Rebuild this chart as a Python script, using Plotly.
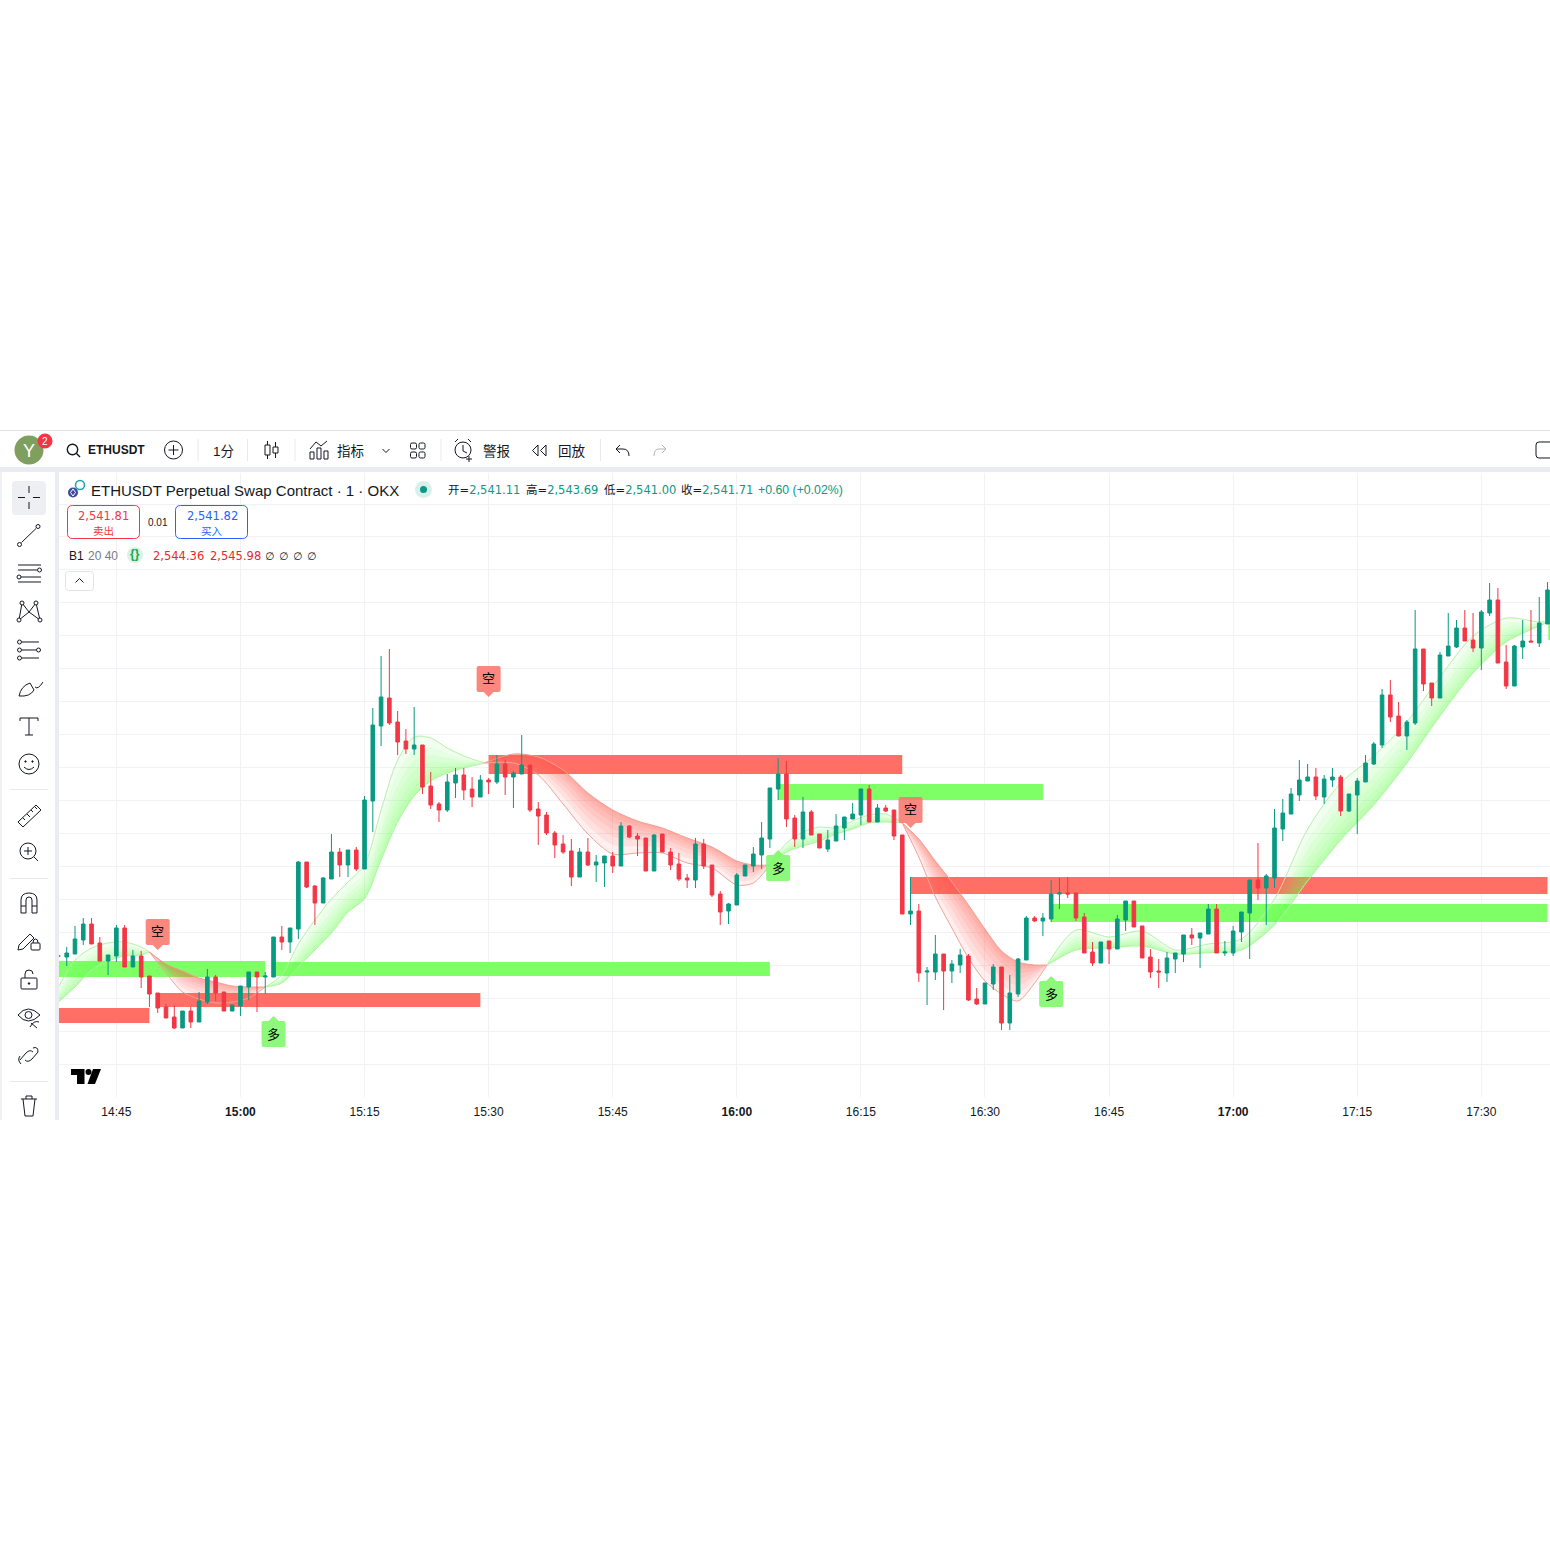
import re
import pandas as pd
import plotly.graph_objects as go

# ---------- candle data (1-minute bars, first bar 14:38) ----------
first_bar = "2025-05-20 14:38:00"
opens = [2496.6,2496.45,2496.9,2499,2501.4,2498.55,2495.85,2496.6,2500.8,2494.95,
 2496.6,2493.6,2491.05,2488.95,2487.45,2485.8,2488.35,2486.7,2489.7,2493.45,
 2491.2,2488.35,2489.1,2491.95,2494.2,2493.45,2493.45,2499.45,2498.7,2500.65,
 2510.7,2507.1,2504.55,2508.15,2512.2,2510.25,2512.5,2509.65,2519.85,2531.1,
 2535.3,2531.7,2528.85,2527.65,2528.25,2522.1,2519.4,2518.5,2522.55,2523.75,
 2521.65,2520.45,2523,2522.7,2525.4,2523.45,2523.9,2525.25,2518.65,2517.75,
 2515.05,2513.4,2512.35,2508.45,2512.2,2510.25,2510.55,2511.6,2510.1,2516.1,
 2514.6,2514.3,2509.35,2514.9,2512.2,2510.4,2508.3,2508,2513.4,2510.25,
 2505.9,2503.35,2504.25,2508.6,2510.1,2511.75,2514.15,2521.65,2523.9,2517.3,
 2514.15,2518.2,2514.9,2512.65,2513.85,2515.8,2517.15,2517.75,2521.65,2516.7,
 2518.8,2518.5,2514.75,2502.9,2503.35,2494.2,2494.2,2496.9,2494.35,2495.25,
 2496.6,2490.15,2489.4,2492.4,2494.95,2486.55,2490.9,2496,2502.3,2501.85,
 2502.15,2505.9,2506.05,2506.05,2502.45,2497.2,2495.55,2498.85,2497.65,2502,
 2504.85,2501.1,2496.45,2494.35,2494.05,2496.15,2496.9,2499.75,2499.3,2499.9,
 2503.65,2497.05,2497.05,2500.2,2503.05,2508,2506.8,2508.3,2515.65,2517.9,
 2520.75,2522.85,2523.45,2520.45,2523,2523.45,2518.35,2520.75,2522.7,2525.4,
 2528.25,2535.75,2532.6,2529.6,2531.55,2542.65,2537.55,2535.3,2541.6,2542.95,
 2545.8,2544,2542.8,2548.05,2550,2540.7,2537.1,2542.95,2543.85,2543.55,
 2546.4]
highs = [2496.9,2497.95,2501.1,2502.3,2502.3,2499.45,2496.75,2501.25,2501.25,2497.5,
 2497.35,2493.6,2491.05,2489.4,2489.25,2488.35,2488.95,2491.2,2494.65,2493.75,
 2491.2,2489.25,2492.1,2494.2,2494.2,2494.2,2499.45,2501.1,2500.8,2510.85,
 2510.7,2507.25,2508.45,2514.9,2512.8,2512.5,2512.95,2520.6,2533.8,2541.6,
 2542.65,2533.35,2530.65,2533.95,2528.25,2524.2,2519.7,2523.9,2524.8,2524.8,
 2523.45,2523.75,2523.3,2526.75,2526,2524.35,2529.75,2525.25,2519.7,2518.2,
 2515.35,2514.75,2514.15,2512.8,2514.3,2511.75,2511.6,2512.2,2516.7,2516.25,
 2515.05,2514.3,2514.9,2514.9,2512.8,2512.05,2508.9,2514.3,2514.15,2510.25,
 2506.35,2504.55,2509.05,2510.25,2512.95,2516.7,2521.8,2526.3,2525.85,2517.75,
 2520.45,2518.5,2514.9,2515.5,2517.9,2517.45,2519.55,2521.65,2522.25,2519.4,
 2519.25,2518.5,2514.75,2508.45,2504.4,2494.95,2499.75,2496.9,2496,2497.65,
 2496.9,2491.8,2492.55,2495.4,2494.95,2493.75,2496.3,2502.6,2502.6,2503.05,
 2508,2508.3,2508.45,2506.05,2503.05,2498.7,2498.7,2498.85,2502.75,2504.85,
 2504.85,2501.1,2497.65,2496.15,2497.2,2497.05,2499.75,2500.8,2500.05,2504.4,
 2504.4,2498.85,2501.1,2503.2,2508,2513.55,2508.9,2518.65,2520.15,2521.8,
 2526,2525.4,2524.8,2523.75,2524.8,2523.75,2520.9,2523.3,2526.75,2528.7,
 2536.65,2538,2534.7,2532,2548.5,2542.65,2537.55,2542.2,2548.05,2547,
 2548.5,2548.05,2548.5,2552.55,2551.8,2543.25,2543.25,2547,2548.5,2550.45,
 2552.7]
lows = [2496.3,2495.1,2496.9,2498.25,2498.4,2495.85,2493.75,2495.7,2494.95,2494.95,
 2491.8,2488.95,2488.05,2487.3,2485.65,2485.8,2485.8,2486.7,2489.4,2489.85,
 2488.35,2488.35,2487.6,2490,2488.2,2490.9,2493.45,2497.5,2497.05,2499.15,
 2506.8,2501.25,2504.55,2508.15,2508.45,2508.45,2509.35,2509.65,2515.2,2528.1,
 2531.25,2526.75,2526.9,2526.75,2520.9,2518.65,2516.7,2518.2,2520.3,2520,
 2518.95,2520.45,2520.9,2522.4,2520.75,2518.8,2523.9,2518.2,2513.25,2514.75,
 2511.3,2511.9,2507.1,2508.45,2510.1,2507.7,2506.95,2509.05,2510.1,2514.3,
 2511.6,2509.35,2509.35,2512.2,2509.5,2507.85,2506.8,2506.8,2509.65,2505.45,
 2501.25,2501.4,2504.25,2508.6,2509.2,2509.65,2512.8,2520,2515.95,2512.95,
 2512.8,2514.75,2512.8,2512.2,2513.85,2514,2517.15,2516.25,2516.7,2516.7,
 2518.2,2514,2502.9,2501.25,2492.7,2489.25,2493,2488.5,2492.55,2494.05,
 2489.85,2489.25,2489.4,2491.5,2485.5,2485.5,2490.45,2496,2501.7,2499.6,
 2501.7,2503.65,2505.3,2501.85,2497.05,2495.1,2495.55,2495.4,2497.65,2500.35,
 2500.95,2496.3,2493.3,2491.8,2492.7,2494.05,2495.7,2498.25,2494.8,2499.9,
 2497.05,2496.6,2496.6,2498.7,2496.15,2505,2501.25,2506.8,2513.85,2517.9,
 2519.85,2522.85,2520,2519.4,2521.95,2517.6,2518.2,2514.9,2522.7,2525.25,
 2527.8,2531.7,2529.6,2527.5,2531.25,2536.35,2534.1,2535.3,2541.6,2542.8,
 2543.85,2542.2,2539.5,2547.6,2540.55,2536.65,2537.1,2541.15,2543.7,2542.95,
 2546.4]
closes = [2496.6,2497.05,2499.15,2501.4,2498.4,2495.85,2496.75,2500.8,2494.95,2496.6,
 2493.45,2490.9,2488.8,2487.3,2485.8,2488.35,2486.7,2489.85,2493.45,2491.05,
 2488.35,2489.25,2492.1,2494.2,2493.45,2493.6,2499.45,2498.7,2500.8,2510.7,
 2506.95,2504.55,2508.3,2512.2,2510.25,2512.5,2509.65,2520,2531.25,2535.45,
 2531.55,2528.7,2527.65,2528.25,2521.95,2519.25,2518.5,2522.7,2523.75,2521.5,
 2520.45,2523,2522.7,2525.4,2523.45,2524.05,2525.25,2518.5,2517.6,2515.05,
 2513.25,2512.2,2508.45,2512.2,2510.25,2510.7,2511.6,2510.1,2516.1,2514.45,
 2514.15,2509.35,2514.75,2512.2,2510.25,2508.15,2508,2513.4,2510.1,2505.75,
 2503.2,2504.4,2508.75,2510.25,2511.9,2514.3,2521.8,2523.9,2517.15,2514.15,
 2518.2,2514.75,2512.8,2514,2516.1,2517.45,2517.9,2521.65,2516.7,2518.8,
 2518.35,2514.6,2502.9,2503.35,2494.05,2494.35,2496.9,2494.35,2495.4,2496.75,
 2490,2489.4,2492.55,2494.95,2486.55,2491.05,2496.15,2502.3,2501.85,2502.3,
 2505.9,2506.05,2505.9,2502.3,2497.05,2495.55,2498.7,2497.65,2502.15,2504.85,
 2500.95,2496.3,2494.2,2494.2,2496.3,2497.05,2499.75,2499.3,2500.05,2503.65,
 2497.05,2497.2,2500.35,2503.2,2508,2506.8,2508.6,2515.8,2518.05,2520.9,
 2523,2523.45,2520.6,2523.15,2523.45,2518.35,2520.9,2522.85,2525.55,2528.4,
 2535.75,2532.45,2529.6,2531.7,2542.65,2537.4,2535.3,2541.75,2543.1,2545.8,
 2543.85,2542.8,2548.2,2550,2540.55,2537.1,2543.1,2543.85,2543.7,2546.55,
 2551.5]

tick_times = ["14:45","15:00","15:15","15:30","15:45","16:00","16:15","16:30","16:45","17:00","17:15","17:30"]
bold_ticks = ["15:00","16:00","17:00"]

# ---------- indicator lines: minute offset from 14:45, fast and slow values ----------
g1_t = [-7,-5,-3,-1,1,3,4]
g1_fast = [2491.95,2496,2497.8,2498.55,2498.7,2497.95,2497.2]
g1_slow = [2489.7,2491.95,2494.5,2495.85,2496.6,2496.75,2497.2]
r1_t = [4,6,8,10,12,14,16,18]
r1_fast = [2497.2,2494.05,2491.2,2490.15,2489.55,2489.7,2490.3,2491.95]
r1_slow = [2497.2,2495.4,2494.35,2493.3,2492.7,2492.1,2491.95,2491.95]
g2_t = [18,20,22,24,26,28,30,32,34,36,38,40,42,44.5]
g2_fast = [2491.95,2493.75,2498.4,2502,2505.15,2507.7,2510.25,2518.5,2526,2529.45,2529.3,2527.8,2526.6,2525.55]
g2_slow = [2491.95,2492.55,2494.95,2497.5,2500.05,2503.2,2505.15,2511,2516.7,2520.6,2522.85,2524.05,2524.8,2525.55]
r2_t = [44.5,48,51,54,57,60,63,66,69,72,75,77,79]
r2_fast = [2525.55,2525.55,2523.75,2519.4,2514.9,2511.9,2512.05,2512.05,2510.55,2509.8,2507.25,2507.55,2510.25]
r2_slow = [2525.55,2526.9,2526.45,2524.5,2521.05,2518.5,2516.85,2515.8,2514.3,2512.95,2510.85,2510.25,2510.25]
g3_t = [79,81,83,85,87,89,91,93,95]
g3_fast = [2510.25,2513.55,2515.2,2515.95,2515.8,2516.85,2517.75,2517.9,2516.55]
g3_slow = [2510.25,2512.2,2513.1,2513.85,2514.9,2515.65,2516.55,2516.7,2516.55]
r3_t = [95,97,99,101,103,105,107,109,111,112.5]
r3_fast = [2516.55,2511.45,2505.45,2500.8,2496.3,2492.85,2490.9,2489.85,2492.55,2495.25]
r3_slow = [2516.55,2514.15,2510.85,2507.7,2504.25,2500.65,2497.35,2495.7,2495.25,2495.25]
g4_t = [112.5,116,120,124,128,132,136,140,144,148,152,156,160,164,168,172,173.5]
g4_fast = [2495.25,2500.5,2499.45,2500.35,2497.5,2498.4,2499.15,2505.15,2515.65,2522.55,2526.6,2531.7,2538.45,2544.6,2547.3,2546.7,2546.85]
g4_slow = [2495.25,2497.5,2497.8,2498.1,2496.9,2497.1,2497.5,2501.25,2507.85,2514,2519.25,2525.55,2532.6,2539.05,2543.7,2546.1,2546.85]

# ---------- zones: colour key, start / end minute offset, upper / lower price ----------
zone_kind = ["g","g","r","r","r","g","r","g","g"]
zone_start = [-7,19,-7,5,45,80,96,113,173.1]
zone_end = [18,79,4,44,95,112,173,173,173.4]
zone_top = [2495.85,2495.7,2488.8,2491.05,2526.75,2522.4,2508.45,2504.4,2548.95]
zone_bottom = [2493.45,2493.6,2486.55,2488.95,2523.9,2520,2505.9,2501.7,2544]

# ---------- signal badges ----------
badge_text = ["空","空","空","多","多","多"]
badge_time = [5,45,96,19,80,113]
badge_tip = [2497.5,2535.45,2515.8,2487.6,2512.5,2493.6]

W = H = 1550
UP, DOWN = "#089981", "#f23645"
TXT = "#131722"
FONT = "Liberation Sans, Noto Sans CJK SC, sans-serif"
NUMFONT = "DejaVu Sans, Noto Sans CJK SC, sans-serif"
t0 = pd.Timestamp("2025-05-20 14:45:00")


def tm(m):
    return (t0 + pd.to_timedelta(m, unit="min")).strftime("%Y-%m-%d %H:%M:%S")


bar_times = pd.date_range(first_bar, periods=len(opens), freq="min").strftime("%Y-%m-%d %H:%M:%S").tolist()
price_of_pixel = lambda y: 2640 - 0.15 * y
x_range = [tm(-6.93), tm(173.3)]
y_range = [price_of_pixel(1097), price_of_pixel(473)]

fig = go.Figure()

# gradient ribbons between the two indicator lines
LAYERS = 7


def ribbon(ts, fast, slow, rgb, line_col, alpha):
    x = [tm(v) for v in ts]
    for k in range(1, LAYERS + 1):
        f = (k / LAYERS) ** 1.5
        mid = [s + f * (a - s) for a, s in zip(fast, slow)]
        fig.add_trace(go.Scatter(x=x + x[::-1], y=slow + mid[::-1], mode="lines",
                                 line=dict(width=0, shape="spline", smoothing=0.8),
                                 fill="toself", fillcolor=f"rgba({rgb},{alpha})",
                                 hoverinfo="skip", showlegend=False))
    for vals in (fast, slow):
        fig.add_trace(go.Scatter(x=x, y=vals, mode="lines",
                                 line=dict(width=1, color=line_col, shape="spline", smoothing=0.8),
                                 hoverinfo="skip", showlegend=False))


GREEN = ("105,250,85", "#b2f3a3", 0.085)
RED = ("255,80,70", "#f2a196", 0.095)
for ts, fa, sl, st in [(g1_t, g1_fast, g1_slow, GREEN), (r1_t, r1_fast, r1_slow, RED),
                       (g2_t, g2_fast, g2_slow, GREEN), (r2_t, r2_fast, r2_slow, RED),
                       (g3_t, g3_fast, g3_slow, GREEN), (r3_t, r3_fast, r3_slow, RED),
                       (g4_t, g4_fast, g4_slow, GREEN)]:
    ribbon(ts, fa, sl, *st)

fig.add_trace(go.Candlestick(x=bar_times, open=opens, high=highs, low=lows, close=closes,
                             xaxis="x2", yaxis="y2", whiskerwidth=0,
                             increasing=dict(line=dict(color=UP, width=1), fillcolor=UP),
                             decreasing=dict(line=dict(color=DOWN, width=1), fillcolor=DOWN),
                             showlegend=False, hoverinfo="skip"))

shapes, notes = [], []


def px(x):
    return x / W


def py(y):
    return 1 - y / H


def to_paper(d):
    out, i = [], 0
    for tok in re.findall(r"[A-Za-z]|-?[\d.]+", d):
        if tok.isalpha():
            out.append(tok)
            i = 0
        else:
            v = float(tok)
            out.append(f"{(px(v) if i % 2 == 0 else py(v)):.5f}")
            i += 1
    return " ".join(out)


def path(d, color=TXT, width=1, fill=None):
    shapes.append(dict(type="path", path=to_paper(d), xref="paper", yref="paper",
                       line=dict(color=color, width=width), fillcolor=fill or "rgba(0,0,0,0)", layer="above"))


def rrect(x0, y0, x1, y1, r, color=TXT, width=1, fill=None):
    d = (f"M {x0+r} {y0} L {x1-r} {y0} Q {x1} {y0} {x1} {y0+r} L {x1} {y1-r} Q {x1} {y1} {x1-r} {y1} "
         f"L {x0+r} {y1} Q {x0} {y1} {x0} {y1-r} L {x0} {y0+r} Q {x0} {y0} {x0+r} {y0} Z")
    path(d, color, width, fill)


def rect(x0, y0, x1, y1, fill):
    shapes.append(dict(type="rect", xref="paper", yref="paper", x0=px(x0), x1=px(x1), y0=py(y0), y1=py(y1),
                       line=dict(width=0), fillcolor=fill, layer="above"))


def circ(cx, cy, r, color=TXT, width=1, fill=None):
    shapes.append(dict(type="circle", xref="paper", yref="paper", x0=px(cx-r), x1=px(cx+r), y0=py(cy-r), y1=py(cy+r),
                       line=dict(color=color, width=width), fillcolor=fill or "rgba(0,0,0,0)", layer="above"))


def text(x, y, s, size=12, color=TXT, anchor="left", family=FONT):
    notes.append(dict(x=px(x), y=py(y), xref="paper", yref="paper", text=s, showarrow=False, xanchor=anchor,
                      yanchor="middle", borderpad=0, font=dict(size=size, color=color, family=family)))


# zones: above the grid, below the ribbons and candles
for kind, a, b, top, bot in zip(zone_kind, zone_start, zone_end, zone_top, zone_bottom):
    shapes.append(dict(type="rect", xref="x", yref="y", x0=tm(a), x1=tm(b), y0=bot, y1=top, layer="between",
                       line=dict(width=0), fillcolor="#7eff66" if kind == "g" else "#ff6f66"))

# signal badges, drawn in pixels from their anchor point (y grows upward)
SHORT_BADGE = "M -10 31 L 10 31 Q 12 31 12 29 L 12 7 Q 12 5 10 5 L 5 5 L 0 0 L -5 5 L -10 5 Q -12 5 -12 7 L -12 29 Q -12 31 -10 31 Z"
LONG_BADGE = "M -10 -31 L 10 -31 Q 12 -31 12 -29 L 12 -7 Q 12 -5 10 -5 L 5 -5 L 0 0 L -5 -5 L -10 -5 Q -12 -5 -12 -7 L -12 -29 Q -12 -31 -10 -31 Z"
for s, m, tip in zip(badge_text, badge_time, badge_tip):
    short = s == "空"
    shapes.append(dict(type="path", xref="x", yref="y", xsizemode="pixel", ysizemode="pixel",
                       xanchor=tm(m), yanchor=tip, path=SHORT_BADGE if short else LONG_BADGE, line=dict(width=0),
                       fillcolor="rgba(251,120,108,0.88)" if short else "rgba(128,248,108,0.9)", layer="above"))
    notes.append(dict(x=tm(m), y=tip, xref="x", yref="y", yshift=20 if short else -17, text=s, showarrow=False,
                      font=dict(size=13, color="#000000", family="Noto Sans CJK SC")))

# ---------- window chrome ----------
GAP = "#e9ecf1"
rect(0, 430, 1550, 431, "#e0e3eb")
rect(0, 467, 1550, 472, GAP)
rect(55, 472, 59, 1120, GAP)
rect(0, 472, 2, 1120, "#f0f1f4")

# top toolbar
circ(29, 450, 14.5, "#7f9f5e", 0, "#7f9f5e")
text(29, 451, "Y", 18, "#ffffff", "center")
circ(45, 441, 7.5, "#f23645", 0, "#f23645")
text(45, 441, "2", 10, "#ffffff", "center")
circ(72.5, 449.5, 5.2, TXT, 1.4)
path("M 76.5 453.5 L 80 457", TXT, 1.4)
text(87, 450, "<b>ETHUSDT</b>", 12, TXT)
circ(173.5, 450, 9)
path("M 173.5 445 L 173.5 455 M 168.5 450 L 178.5 450")
for sx in (197.5, 247, 294.5, 440.5, 600):
    rect(sx, 439, sx + 1, 461, "#e8eaef")
text(212, 451, "1分", 13.5, TXT)
path("M 265 445 L 270 445 L 270 455 L 265 455 Z M 267.5 441 L 267.5 445 M 267.5 455 L 267.5 459 "
     "M 273 447 L 278 447 L 278 453 L 273 453 Z M 275.5 442 L 275.5 447 M 275.5 453 L 275.5 458")
path("M 310 459 L 310 452 L 314 452 L 314 459 Z M 317 459 L 317 448 L 321 448 L 321 459 Z M 324 459 L 324 451 L 328 451 L 328 459 Z "
     "M 310 449 L 316 442 L 321 446 L 327 441")
text(336, 451, "指标", 13.5, TXT)
path("M 382.5 449 L 386 452.5 L 389.5 449")
for gx in (410.5, 419):
    for gy in (443, 452):
        rrect(gx, gy, gx + 6, gy + 6, 1.5)
circ(463, 450, 8)
path("M 463 445 L 463 451 L 467 453 M 455 442 L 458 439 M 471 442 L 468 439 M 469 456 L 469 462 M 466 459 L 472 459")
text(482, 451, "警报", 13.5, TXT)
path("M 538 445 L 532.5 450.5 L 538 456 Z M 546 445 L 540.5 450.5 L 546 456 Z")
text(557, 451, "回放", 13.5, TXT)
path("M 620 445 L 616 449 L 620 453 M 616 449 L 623 449 Q 629 449 629 456")
path("M 662 445 L 666 449 L 662 453 M 666 449 L 659 449 Q 654 449 654 456", "#b2b5be")
rrect(1536, 442, 1556, 458, 3)

# left toolbar
rrect(12, 481, 46, 515, 4, "#eeeff2", 0, "#eeeff2")
path("M 18 497.5 L 25 497.5 M 33 497.5 L 40 497.5 M 29 486 L 29 493 M 29 502 L 29 509")
path("M 21.5 542.5 L 36 528.5")
circ(19.5, 544.5, 2)
circ(38, 526.5, 2)
path("M 18 565 L 41 565 M 18 570 L 37 570 M 21 577 L 41 577 M 18 582 L 41 582")
circ(39.5, 570, 2)
circ(19, 577, 2)
path("M 22 603 L 19 620 L 29 612 L 36 603 L 40 620 L 29 612 L 22 603")
for cx, cy in ((22, 603), (36, 603), (19, 620), (40, 620)):
    circ(cx, cy, 2, TXT, 1, "#ffffff")
path("M 22 642 L 39 642 M 22 650 L 36 650 M 22 658 L 39 658")
for cx, cy in ((19.5, 642), (19.5, 650), (38.5, 650), (19.5, 658)):
    circ(cx, cy, 2)
path("M 19 696 Q 21 686 30 683 L 34 690 Q 30 697 19 696 Z M 35 687 Q 38 690 43 682")
path("M 20 718 L 38 718 L 38 721 M 20 718 L 20 721 M 29 718 L 29 735 M 25 735 L 33 735")
circ(29, 764, 10)
circ(25.5, 761.5, 0.7, TXT, 1, TXT)
circ(32.5, 761.5, 0.7, TXT, 1, TXT)
path("M 24 767 Q 29 772 34 767")
rect(10, 789, 48, 790, "#e8eaef")
path("M 18 822 L 36 805 L 41 810 L 23 827 Z M 23 818 L 25 820 M 27 814 L 30 817 M 31 810 L 33 812 M 35 807 L 37 809")
circ(28, 851, 8)
path("M 28 847 L 28 855 M 24 851 L 32 851 M 34 857 L 38 861")
rect(10, 878, 48, 879, "#e8eaef")
path("M 21 913 L 21 900 Q 21 893 29 893 Q 37 893 37 900 L 37 913 L 32 913 L 32 900 Q 32 897 29 897 Q 26 897 26 900 L 26 913 Z M 21 906 L 26 906 M 32 906 L 37 906")
path("M 19 945 L 30 934 L 34 938 L 23 949 L 18 950 Z")
rrect(31, 943, 40, 950, 1)
path("M 33 943 Q 33 939 35.5 939 Q 38 939 38 943")
rrect(21, 978, 37, 989, 1)
path("M 25 978 L 25 974 Q 25 970 29 970 Q 33 970 33 974")
circ(29, 983.5, 0.8, TXT, 1, TXT)
path("M 18 1015 Q 28 1003 40 1015 Q 28 1027 18 1015 Z")
circ(28.5, 1015, 3.5)
path("M 30 1027 Q 34 1020 39 1022 M 31 1023 L 37 1028")
path("M 20 1060 L 26 1053 Q 30 1049 33 1052 M 38 1052 L 32 1059 Q 28 1063 25 1060 M 21 1064 Q 17 1060 20 1056 M 33 1048 Q 38 1046 38 1052")
rect(10, 1081, 48, 1082, "#e8eaef")
path("M 21 1099 L 37 1099 M 23 1099 L 25 1116 L 33 1116 L 35 1099 M 26 1099 L 26 1096 L 32 1096 L 32 1099")

# legend rows
circ(73, 492.5, 5, "#3d4a9c", 0, "#3d4a9c")
path("M 73 489 L 75.5 492.5 L 73 496 L 70.5 492.5 Z", "#ffffff", 1)
circ(80, 485, 4.5, "#1ba2b5", 1.5)
text(90, 490, "ETHUSDT Perpetual Swap Contract · 1 · OKX", 15, TXT)
circ(423.5, 489.5, 8.5, "#d8f0eb", 0, "#d8f0eb")
circ(423.5, 489.5, 3.5, UP, 0, UP)
LBL = f'<span style="color:{TXT}">%s=</span>'
for x0, lab, val in ((447, "开", "2,541.11"), (525, "高", "2,543.69"), (603, "低", "2,541.00"), (680, "收", "2,541.71")):
    text(x0, 490.5, (LBL % lab) + val, 11.5, UP, family=NUMFONT)
text(757, 490.5, "+0.60 (+0.02%)", 12.3, UP)

rrect(67.5, 505.5, 139.5, 538.5, 5, DOWN, 1, "#ffffff")
text(103.5, 516, "2,541.81", 11.5, DOWN, "center", NUMFONT)
text(103.5, 530.5, "卖出", 10.5, DOWN, "center")
text(158, 522.5, "0.01", 10, TXT, "center")
rrect(175.5, 505.5, 247.5, 538.5, 5, "#2962ff", 1, "#ffffff")
text(212, 516, "2,541.82", 11.5, "#2962ff", "center", NUMFONT)
text(212, 530.5, "买入", 10.5, "#2962ff", "center")

text(68, 555.5, "B1", 12, TXT)
text(87, 555.5, "20 40", 12, "#787b86")
circ(135, 555, 8, "#d8f3e2", 0, "#d8f3e2")
text(135, 554.5, "<b>{}</b>", 12, "#1aa34a", "center")
text(152, 555.5, "2,544.36", 11.5, "#e32b2b", family=NUMFONT)
text(208.5, 555.5, "2,545.98", 11.5, "#e32b2b", family=NUMFONT)
for zx in (269, 283, 297, 311):
    text(zx, 555.5, "∅", 10.5, TXT, "center", "DejaVu Sans")
rrect(65.5, 571.5, 93.5, 590.5, 3, "#e0e3eb", 1, "#ffffff")
path("M 75.5 582.5 L 79.5 578.5 L 83.5 582.5")

# TradingView mark
path("M 71 1069 L 84.5 1069 L 84.5 1084 L 77 1084 L 77 1075 L 71 1075 Z", "#000000", 0, "#000000")
circ(88.5, 1072, 3, "#000000", 0, "#000000")
path("M 93 1069 L 101 1069 L 95 1084 L 87.5 1084 Z", "#000000", 0, "#000000")

tickvals = [f"2025-05-20 {t}:00" for t in tick_times]
ticktext = [f"<b>{t}</b>" if t in bold_ticks else t for t in tick_times]
domx = [59 / W, 1]
domy = [py(1097), py(473)]

fig.update_layout(
    width=W, height=H, autosize=False, margin=dict(l=0, r=0, t=0, b=0, pad=0),
    paper_bgcolor="#ffffff", plot_bgcolor="#ffffff", showlegend=False, boxgap=0.38,
    xaxis=dict(type="date", domain=domx, range=x_range, anchor="y", tickmode="array", tickvals=tickvals,
               ticktext=ticktext, showgrid=True, gridcolor="#f1f2f6", gridwidth=1, zeroline=False, showline=False,
               ticks="outside", ticklen=4, tickcolor="rgba(0,0,0,0)", tickfont=dict(size=12, color=TXT, family=FONT),
               rangeslider=dict(visible=False), tickangle=0),
    yaxis=dict(domain=domy, range=y_range, anchor="x", showticklabels=False, showgrid=True, gridcolor="#f1f2f6",
               gridwidth=1, zeroline=False, ticks="", tickmode="linear", tick0=price_of_pixel(504), dtick=4.944),
    xaxis2=dict(type="date", domain=domx, range=x_range, overlaying="x", anchor="y2", visible=False,
                rangeslider=dict(visible=False), showgrid=False),
    yaxis2=dict(domain=domy, range=y_range, overlaying="y", anchor="x2", visible=False, showgrid=False),
    shapes=shapes, annotations=notes, font=dict(family=FONT),
)

fig.write_html("out.html", config={"displayModeBar": False},
               post_script="document.body.style.margin='0';document.documentElement.style.overflow='hidden';")
